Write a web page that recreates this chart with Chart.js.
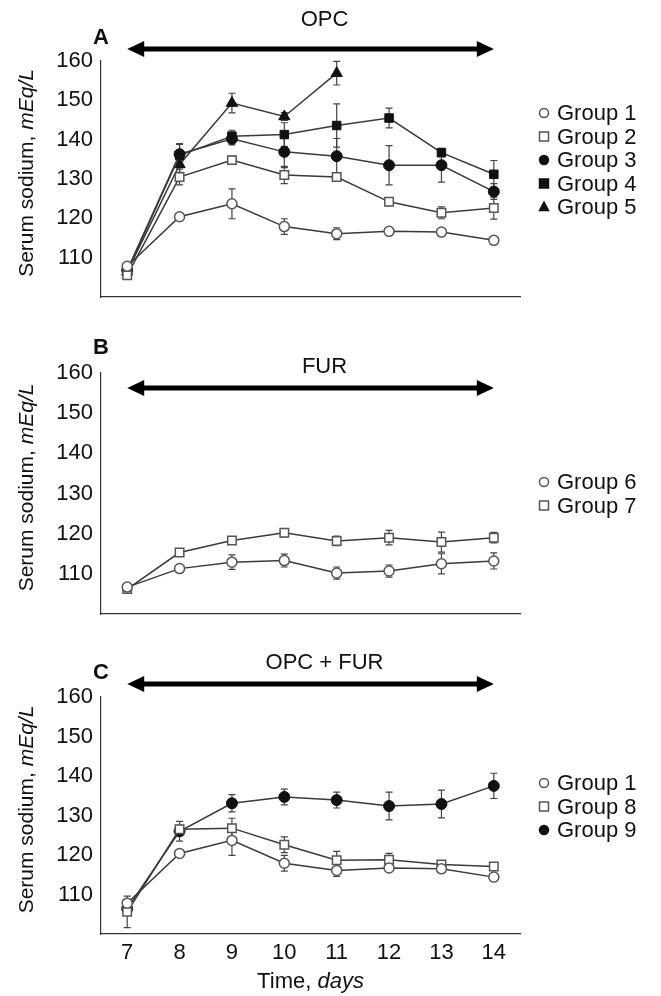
<!DOCTYPE html>
<html>
<head>
<meta charset="utf-8">
<script src="https://cdn.jsdelivr.net/npm/chart.js@4.4.1/dist/chart.umd.min.js"></script>
<style>
  body { margin: 0; background: #fff; }
  #wrap { position: relative; width: 661px; height: 996px; }
  canvas { position: absolute; left: 0; }
</style>
</head>
<body>
<div id="wrap">
  <canvas id="chartA" width="661" height="320" style="top:0px"></canvas>
  <canvas id="chartB" width="661" height="320" style="top:320px"></canvas>
  <canvas id="chartC" width="661" height="356" style="top:640px"></canvas>
</div>
<script>
// Time points (days)
const days = [7, 8, 9, 10, 11, 12, 13, 14];
const yTicks = [110, 120, 130, 140, 150, 160];

// Serum sodium, mEq/L (mean) and error bars (SE)
const group1 = [107.8, 120.4, 123.7, 117.9, 116.1, 116.7, 116.5, 114.4];
const group1Err = [0.5, 0.8, 3.8, 2.0, 1.5, 0.6, 0.6, 0.6];
const group2 = [105.5, 130.5, 134.8, 131.0, 130.5, 124.2, 121.4, 122.6];
const group2Err = [0.5, 2.0, 1.0, 2.2, 1.0, 1.0, 1.5, 2.8];
const group3 = [106.8, 136.3, 140.2, 136.9, 135.8, 133.5, 133.5, 126.8];
const group3Err = [0.5, 2.5, 1.5, 4.0, 4.5, 5.0, 4.3, 2.0];
const group4 = [106.5, 136.0, 140.9, 141.3, 143.6, 145.5, 136.7, 131.2];
const group4Err = [0.5, 3.0, 1.5, 3.0, 5.5, 2.5, 1.0, 3.5];
const group5 = [106.4, 133.7, 149.3, 145.9, 156.9, null, null, null];
const group5Err = [0.5, 2.0, 2.5, 1.0, 3.0, null, null, null];

const group6 = [106.7, 111.3, 112.9, 113.3, 110.2, 110.7, 112.5, 113.2];
const group6Err = [0.5, 0.6, 1.8, 1.6, 1.5, 1.5, 2.5, 2.0];
const group7 = [106.2, 115.3, 118.3, 120.2, 118.2, 119.0, 117.9, 119.0];
const group7Err = [0.5, 0.5, 1.0, 1.0, 1.2, 1.8, 2.5, 1.3];

const group8 = [105.6, 126.5, 126.8, 122.6, 118.7, 118.8, 117.6, 117.1];
const group8Err = [4.0, 1.0, 2.5, 2.0, 2.2, 1.6, 1.0, 1.0];
const group9 = [106.4, 126.0, 133.1, 134.7, 133.9, 132.4, 132.9, 137.5];
const group9Err = [0.5, 2.5, 2.2, 2.0, 2.0, 3.5, 3.5, 3.2];

const FONT = '"Liberation Sans", Arial, Helvetica, sans-serif';
const LINE = '#3a3a3a';

// marker styles
const openCircle = { pointStyle: 'circle', pointRadius: 5, pointBackgroundColor: '#fff', pointBorderColor: '#555', pointBorderWidth: 1.5 };
const openSquare = { pointStyle: 'rect', pointRadius: 6, pointBackgroundColor: '#fff', pointBorderColor: '#555', pointBorderWidth: 1.5 };
const filledCircle = { pointStyle: 'circle', pointRadius: 5.5, pointBackgroundColor: '#111', pointBorderColor: '#111', pointBorderWidth: 1 };
const filledSquare = { pointStyle: 'rect', pointRadius: 6, pointBackgroundColor: '#111', pointBorderColor: '#111', pointBorderWidth: 1 };
const filledTriangle = { pointStyle: 'triangle', pointRadius: 6.5, pointBackgroundColor: '#111', pointBorderColor: '#111', pointBorderWidth: 1 };

function makeSet(label, values, errs, marker) {
  const pts = [];
  days.forEach((d, i) => {
    if (values[i] !== null) pts.push({ x: d, y: values[i], e: errs[i] });
  });
  return Object.assign({
    label,
    data: pts,
    borderColor: LINE,
    borderWidth: 1.5,
    tension: 0,
    fill: false
  }, marker);
}

// draw a marker in the legend like the dataset's point
function drawMarker(ctx, ds, x, y, r) {
  ctx.save();
  ctx.fillStyle = ds.pointBackgroundColor;
  ctx.strokeStyle = ds.pointBorderColor;
  ctx.lineWidth = 1.5;
  ctx.beginPath();
  if (ds.pointStyle === 'circle') {
    ctx.arc(x, y, r, 0, Math.PI * 2);
  } else if (ds.pointStyle === 'rect') {
    ctx.rect(x - r, y - r, r * 2, r * 2);
  } else {
    ctx.moveTo(x, y - r * 1.1);
    ctx.lineTo(x + r, y + r * 0.75);
    ctx.lineTo(x - r, y + r * 0.75);
    ctx.closePath();
  }
  ctx.fill();
  ctx.stroke();
  ctx.restore();
}

// error bars, arrow, titles, legend
const decor = {
  id: 'decor',
  beforeDatasetsDraw(chart) {
    const ctx = chart.ctx;
    const xs = chart.scales.x, ys = chart.scales.y;
    ctx.save();
    ctx.strokeStyle = '#444';
    ctx.lineWidth = 1.2;
    chart.data.datasets.forEach(ds => {
      ds.data.forEach(p => {
        if (!p.e) return;
        const x = xs.getPixelForValue(p.x);
        const yt = ys.getPixelForValue(p.y + p.e);
        const yb = ys.getPixelForValue(p.y - p.e);
        ctx.beginPath();
        ctx.moveTo(x, yt); ctx.lineTo(x, yb);
        ctx.moveTo(x - 3.5, yt); ctx.lineTo(x + 3.5, yt);
        ctx.moveTo(x - 3.5, yb); ctx.lineTo(x + 3.5, yb);
        ctx.stroke();
      });
    });
    ctx.restore();
  },
  afterDraw(chart, args, o) {
    const ctx = chart.ctx;
    const xs = chart.scales.x;
    const area = chart.chartArea;
    ctx.save();

    // double-headed arrow over the treatment period
    const x1 = xs.getPixelForValue(days[0]);
    const x2 = xs.getPixelForValue(days[days.length - 1]);
    const ay = area.top + o.arrowY;
    const head = 17;
    ctx.strokeStyle = '#000';
    ctx.fillStyle = '#000';
    ctx.lineWidth = 5;
    ctx.beginPath();
    ctx.moveTo(x1 + head - 2, ay); ctx.lineTo(x2 - head + 2, ay);
    ctx.stroke();
    ctx.beginPath();
    ctx.moveTo(x1, ay); ctx.lineTo(x1 + head, ay - 8); ctx.lineTo(x1 + head, ay + 8); ctx.closePath();
    ctx.fill();
    ctx.beginPath();
    ctx.moveTo(x2, ay); ctx.lineTo(x2 - head, ay - 8); ctx.lineTo(x2 - head, ay + 8); ctx.closePath();
    ctx.fill();

    // treatment title
    ctx.font = '22px ' + FONT;
    ctx.fillStyle = '#111';
    ctx.textAlign = 'center';
    ctx.textBaseline = 'middle';
    ctx.fillText(o.title, (x1 + x2) / 2 + 14, area.top + o.titleY);

    // panel letter
    ctx.font = 'bold 22px ' + FONT;
    ctx.fillText(o.letter, area.left, area.top + o.letterY);

    // y axis title, with italic units
    const t1 = 'Serum sodium, ', t2 = 'mEq/L';
    ctx.font = '21px ' + FONT;
    const w1 = ctx.measureText(t1).width;
    ctx.font = 'italic 21px ' + FONT;
    const w2 = ctx.measureText(t2).width;
    ctx.translate(27, (area.top + area.bottom) / 2 - 6);
    ctx.rotate(-Math.PI / 2);
    ctx.textAlign = 'left';
    ctx.font = '21px ' + FONT;
    ctx.fillText(t1, -(w1 + w2) / 2, 0);
    ctx.font = 'italic 21px ' + FONT;
    ctx.fillText(t2, -(w1 + w2) / 2 + w1, 0);
    ctx.setTransform(1, 0, 0, 1, 0, 0);

    // legend
    ctx.textAlign = 'left';
    ctx.font = '22px ' + FONT;
    chart.data.datasets.forEach((ds, i) => {
      const ly = o.legendTop + i * 23.5;
      drawMarker(ctx, ds, 544, ly, 4.5);
      ctx.fillStyle = '#111';
      ctx.fillText(ds.label, 557, ly + 1);
    });

    // x axis title
    if (o.xTitle) {
      const a = 'Time, ', b = 'days';
      ctx.font = '22px ' + FONT;
      const wa = ctx.measureText(a).width;
      ctx.font = 'italic 22px ' + FONT;
      const wb = ctx.measureText(b).width;
      const sx = (area.left + area.right) / 2 - (wa + wb) / 2;
      const ty = area.bottom + 48;
      ctx.font = '22px ' + FONT;
      ctx.fillText(a, sx, ty);
      ctx.font = 'italic 22px ' + FONT;
      ctx.fillText(b, sx + wa, ty);
    }
    ctx.restore();
  }
};

function makeChart(id, datasets, cfg) {
  return new Chart(document.getElementById(id), {
    type: 'line',
    data: { datasets },
    plugins: [decor],
    options: {
      responsive: false,
      animation: false,
      layout: { padding: { left: 0, right: 141, top: cfg.top, bottom: cfg.bottom } },
      plugins: {
        legend: { display: false },
        tooltip: { enabled: false },
        decor: cfg.decor
      },
      scales: {
        x: {
          type: 'linear',
          min: 6.5,
          max: 14.5,
          grid: { display: false, drawTicks: false },
          border: { display: true, color: '#333', width: 1.2 },
          afterBuildTicks: s => { s.ticks = days.map(v => ({ value: v })); },
          ticks: {
            display: cfg.showX,
            autoSkip: false,
            maxRotation: 0,
            padding: 6,
            color: '#111',
            font: { family: FONT, size: 22 },
            callback: v => String(v)
          },
          afterFit: s => { s.height = cfg.xHeight; }
        },
        y: {
          min: 100,
          max: 160,
          grid: { display: false, drawTicks: false },
          border: { display: true, color: '#333', width: 1.2 },
          ticks: {
            stepSize: 10,
            padding: 8,
            color: '#111',
            font: { family: FONT, size: 22 },
            callback: v => yTicks.includes(v) ? String(v) : ''
          },
          afterFit: s => { s.width = 101; }
        }
      }
    }
  });
}

makeChart('chartA', [
  makeSet('Group 1', group1, group1Err, openCircle),
  makeSet('Group 2', group2, group2Err, openSquare),
  makeSet('Group 3', group3, group3Err, filledCircle),
  makeSet('Group 4', group4, group4Err, filledSquare),
  makeSet('Group 5', group5, group5Err, filledTriangle)
], {
  top: 61, bottom: 23, xHeight: 0, showX: false,
  decor: { title: 'OPC', letter: 'A', arrowY: -12, titleY: -41, letterY: -23, legendTop: 113 }
});

makeChart('chartB', [
  makeSet('Group 6', group6, group6Err, openCircle),
  makeSet('Group 7', group7, group7Err, openSquare)
], {
  top: 53, bottom: 26, xHeight: 0, showX: false,
  decor: { title: 'FUR', letter: 'B', arrowY: 15, titleY: -6, letterY: -25, legendTop: 162 }
});

makeChart('chartC', [
  makeSet('Group 1', group1, group1Err, openCircle),
  makeSet('Group 8', group8, group8Err, openSquare),
  makeSet('Group 9', group9, group9Err, filledCircle)
], {
  top: 57, bottom: 0, xHeight: 62, showX: true,
  decor: { title: 'OPC + FUR', letter: 'C', arrowY: -13, titleY: -34, letterY: -24, legendTop: 143, xTitle: true }
});
</script>
</body>
</html>
